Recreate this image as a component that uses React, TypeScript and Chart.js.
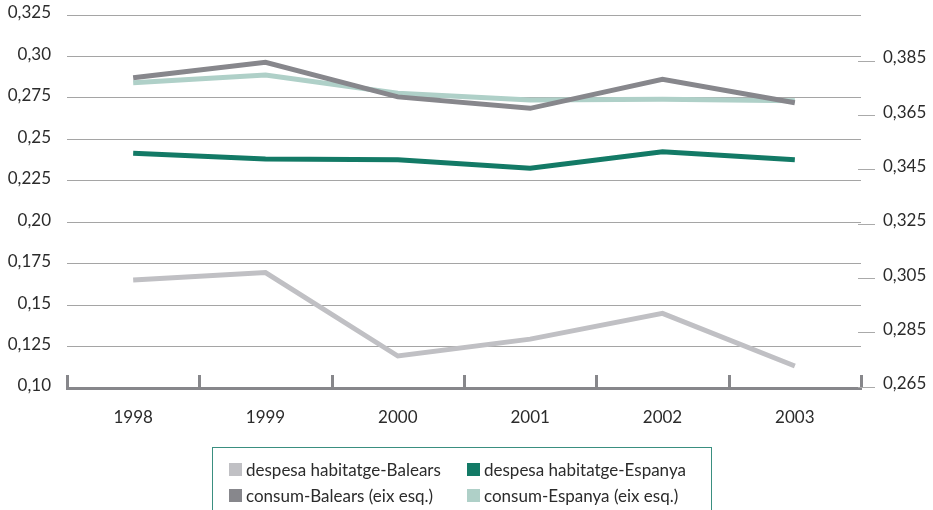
import React, { useEffect, useRef } from 'react';
import { Chart, registerables } from 'chart.js';

Chart.register(...registerables);

const years = ['1998', '1999', '2000', '2001', '2002', '2003'];
const despesaBalears = [0.3043, 0.307, 0.2763, 0.2825, 0.292, 0.2726];
const despesaEspanya = [0.3509, 0.3488, 0.3485, 0.3454, 0.3515, 0.3485];
const consumBalears = [0.2872, 0.2965, 0.2756, 0.2687, 0.2862, 0.2721];
const consumEspanya = [0.2842, 0.2888, 0.2778, 0.2737, 0.2742, 0.2733];

const leftTicks = [0.1, 0.125, 0.15, 0.175, 0.2, 0.225, 0.25, 0.275, 0.3, 0.325];
const leftTickLabels = ['0,10', '0,125', '0,15', '0,175', '0,20', '0,225', '0,25', '0,275', '0,30', '0,325'];
const rightTicks = [0.265, 0.285, 0.305, 0.325, 0.345, 0.365, 0.385];
const rightTickLabels = ['0,265', '0,285', '0,305', '0,325', '0,345', '0,365', '0,385'];

const seriesNames = [
  'despesa habitatge-Balears',
  'despesa habitatge-Espanya',
  'consum-Balears (eix esq.)',
  'consum-Espanya (eix esq.)',
];
const seriesColors = ['#c0c0c4', '#137a66', '#87878c', '#afd0c8'];

const FONT = 'Lato, "Open Sans", sans-serif';
const TEXT = '#2b2b2b';

const tickMarks = {
  id: 'tickMarks',
  afterDatasetsDraw(chart: any) {
    const x = chart.scales.x;
    const y1 = chart.scales.y1;
    const area = chart.chartArea;
    const ctx = chart.ctx;
    const step = x.getPixelForValue(1) - x.getPixelForValue(0);
    ctx.save();
    ctx.fillStyle = '#87878b';
    for (let i = 0; i <= years.length; i++) {
      const px = x.getPixelForValue(i) - step / 2;
      ctx.fillRect(Math.round(px) - 1, area.bottom - 13, 3, 13);
    }
    ctx.fillStyle = '#aaaaaa';
    rightTicks.forEach((v) => {
      const py = Math.round(y1.getPixelForValue(v));
      ctx.fillRect(area.right - 3, py, 17, 1);
    });
    ctx.restore();
  },
};

export default function App() {
  const ref = useRef<HTMLCanvasElement | null>(null);

  useEffect(() => {
    if (!ref.current) return;
    const data = [despesaBalears, despesaEspanya, consumBalears, consumEspanya];
    const axes = ['y1', 'y1', 'y', 'y'];
    const chart = new Chart(ref.current, {
      type: 'line',
      data: {
        labels: years,
        datasets: data.map((d, i) => ({
          label: seriesNames[i],
          data: d,
          yAxisID: axes[i],
          borderColor: seriesColors[i],
          backgroundColor: seriesColors[i],
          borderWidth: 5,
          pointRadius: 0,
          tension: 0,
          fill: false,
        })),
      },
      options: {
        animation: false,
        responsive: true,
        maintainAspectRatio: false,
        layout: { padding: { top: 15, left: 0, right: 0, bottom: 0 } },
        plugins: { legend: { display: false }, tooltip: { enabled: false } },
        scales: {
          x: {
            offset: true,
            grid: { display: false, drawTicks: false },
            border: { display: true, color: '#87878b', width: 3 },
            ticks: { padding: 19, color: TEXT, font: { family: FONT, size: 17 } },
            afterFit: (s: any) => { s.height = 122; },
          },
          y: {
            position: 'left',
            min: 0.1,
            max: 0.325,
            afterBuildTicks: (s: any) => { s.ticks = leftTicks.map((v) => ({ value: v })); },
            afterFit: (s: any) => { s.width = 67; },
            grid: { color: '#a5a5a5', lineWidth: 1, drawTicks: true, tickLength: 14, tickColor: 'rgba(0,0,0,0)' },
            border: { display: false },
            ticks: {
              padding: 2,
              labelOffset: -2,
              color: TEXT,
              font: { family: FONT, size: 17 },
              callback: (_v: any, i: number) => leftTickLabels[i],
            },
          },
          y1: {
            position: 'right',
            min: 0.26452,
            max: 0.40182,
            afterBuildTicks: (s: any) => { s.ticks = rightTicks.map((v) => ({ value: v })); },
            afterFit: (s: any) => { s.width = 72; },
            grid: { drawOnChartArea: false, drawTicks: true, tickLength: 20, tickColor: 'rgba(0,0,0,0)' },
            border: { display: false },
            ticks: {
              padding: 2,
              labelOffset: -3,
              color: TEXT,
              font: { family: FONT, size: 17 },
              callback: (_v: any, i: number) => rightTickLabels[i],
            },
          },
        },
      },
      plugins: [tickMarks],
    });
    return () => chart.destroy();
  }, []);

  const legendPos = [
    { left: 229, top: 469 },
    { left: 467, top: 469 },
    { left: 229, top: 495 },
    { left: 467, top: 495 },
  ];

  return (
    <div style={{ position: 'fixed', left: 0, top: 0, width: 933, height: 510, overflow: 'hidden', background: '#fff' }}>
      <div style={{ position: 'absolute', left: 0, top: 0, width: 933, height: 510 }}>
        <canvas ref={ref} />
      </div>
      <div
        style={{
          position: 'absolute',
          left: 212,
          top: 447,
          width: 500,
          height: 63,
          boxSizing: 'border-box',
          border: '1px solid #3a8f80',
          borderBottom: 'none',
        }}
      />
      {seriesNames.map((name, i) => (
        <div
          key={name}
          style={{
            position: 'absolute',
            left: legendPos[i].left,
            top: legendPos[i].top - 10,
            height: 20,
            display: 'flex',
            alignItems: 'center',
            fontFamily: FONT,
            fontSize: 17,
            color: TEXT,
            whiteSpace: 'nowrap',
          }}
        >
          <span style={{ display: 'inline-block', width: 13, height: 13, background: seriesColors[i], marginRight: 4 }} />
          <span>{name}</span>
        </div>
      ))}
    </div>
  );
}
